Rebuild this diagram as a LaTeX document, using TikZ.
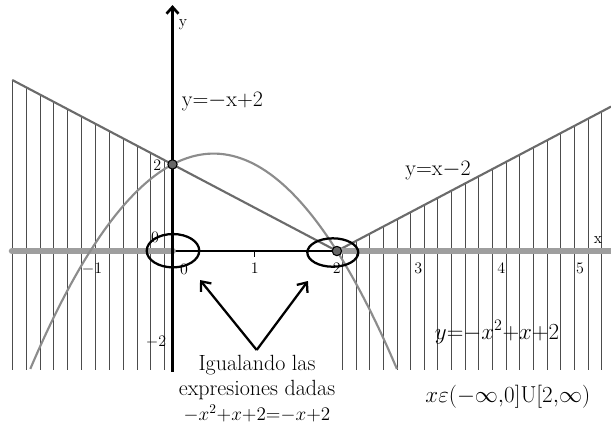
\documentclass[tikz,border=0pt]{standalone}
\usetikzlibrary{arrows.meta}
\begin{document}
\begin{tikzpicture}[x=61.65pt,y=32.475pt,
 hatch/.style={black!70,line width=0.6pt},
 bound/.style={black!58,line width=1.6pt},
 parab/.style={black!45,line width=1.6pt},
 axisline/.style={black,line width=2pt},
 band/.style={black!38,line width=5.2pt,line cap=round},
 ring/.style={black,line width=1.7pt},
 pt/.style={circle,draw=black,fill=black!60,line width=0.8pt,inner sep=0pt,minimum size=7pt},
 num/.style={font=\fontsize{12}{14}\selectfont,inner sep=0pt},
 eq/.style={font=\fontsize{16.5}{20}\selectfont,inner sep=0pt},
 txt/.style={font=\fontsize{16.5}{18.75}\selectfont,inner sep=0pt,anchor=base},
 txtm/.style={font=\fontsize{14}{16}\selectfont,inner sep=0pt,anchor=base}
]
\useasboundingbox (-2.0985,-4.134) rectangle (5.3345,5.797);
% key points
\coordinate (A) at (0,2);
\coordinate (B) at (2,0);
\coordinate (O) at (0,0);
\coordinate (Lend) at (-1.95,3.95);
\coordinate (Rend) at (5.3345,3.3345);
\coordinate (xl) at (-1.95,0);
\coordinate (xr) at (5.3345,0);
\coordinate (yb) at (0,-2.79);
\coordinate (yt) at (0,5.68);
% hatching
\foreach \k in {0,...,11}{\pgfmathsetmacro\xx{-1.949+\k*0.1685}
 \draw[hatch] (\xx,{2-(\xx)}) -- (\xx,-2.748);}
\foreach \k in {0,...,19}{\pgfmathsetmacro\xx{2.066+\k*0.166}
 \draw[hatch] (\xx,{(\xx)-2}) -- (\xx,-2.748);}
% boundary lines
\draw[bound] (Lend) -- (B);
\draw[bound] (B) -- (Rend);
% axes
\draw[black,line width=1.5pt] (xl) -- (xr);
\draw[band] (xl) -- (O);
\draw[band] (B) -- (xr);
\coordinate (t1) at (1,0);
\coordinate (t1b) at (1,-0.13);
\draw[black,line width=1pt] (t1) -- (t1b);
\draw[axisline,-{Straight Barb[length=5pt,width=9pt]}] (yb) -- (yt);
% parabola
\draw[parab] plot[domain=-1.73:2.73,samples=90,smooth] (\x,{2+\x-(\x)*(\x)});
% ellipses
\draw[ring] (0.006,0.007) ellipse [x radius=19.7pt, y radius=12.5pt];
\draw[ring] (1.95,-0.035) ellipse [x radius=19.1pt, y radius=10.65pt];
% points
\node[pt] (pA) at (A) {};
\node[pt] (pB) at (B) {};
% arrows
\coordinate (apex) at (1.024,-2.286);
\coordinate (tipL) at (0.335,-0.67);
\coordinate (tipR) at (1.648,-0.693);
\draw[ring,-{Straight Barb[length=6pt,width=10pt]}] (apex) -- (tipL);
\draw[ring,-{Straight Barb[length=6pt,width=10pt]}] (apex) -- (tipR);
% axis labels
\node[num] (ly) at (0.128,5.22) {y};
\node[num] (lx) at (5.176,0.254) {x};
\node[num] (n0) at (0.14,-0.416) {0};
\node[num] (n1) at (1.0,-0.39) {1};
\node[num] (nm1) at (-0.979,-0.416) {$-$1};
\node[num] (n2) at (2.0,-0.39) {2};
\node[num] (n3) at (2.99,-0.39) {3};
\node[num] (n4) at (4.0,-0.39) {4};
\node[num] (n5) at (4.957,-0.39) {5};
\node[num] (v0) at (-0.213,0.323) {0};
\node[num] (v2) at (-0.186,1.986) {2};
\node[num] (vm2) at (-0.2,-2.10) {$-$2};
% equation labels
\node[eq] (e1) at (0.608,3.448) {y=$-$x+2};
\node[eq] (e2) at (3.23,1.87) {y=x$-$2};
\node[eq] (e3) at (3.948,-1.871) {${y}{=}{-}x^2{+}x{+}2$};
\node[eq] (e4) at (4.08,-3.37) {$x\varepsilon({-}\infty{,}0]\mathrm{U}[2{,}\infty)$};
% note under the arrows
\node[txt] (note1) at (1.028,-2.764) {Igualando las};
\node[txt] (note2) at (1.028,-3.342) {expresiones dadas};
\node[txtm] (note3) at (1.028,-3.919) {${-}x^2{+}x{+}2{=}{-}x{+}2$};
\end{tikzpicture}
\end{document}
